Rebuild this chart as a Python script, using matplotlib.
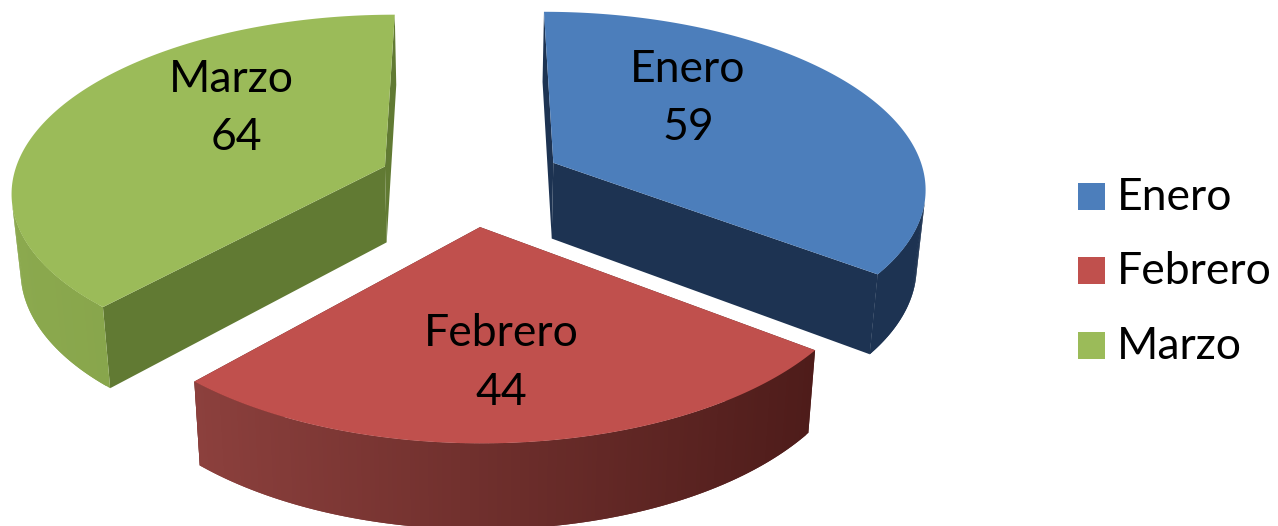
import numpy as np
import matplotlib
matplotlib.use('Agg')
import matplotlib.pyplot as plt
from matplotlib.colors import to_rgb
from matplotlib.patches import Rectangle

plt.rcParams['font.family'] = ['Lato', 'DejaVu Sans']

# chart data
months = ['Enero', 'Febrero', 'Marzo']
sales = [59, 44, 64]

# colours per slice
top_colors = ['#4C7EBB', '#C0504D', '#9BBB59']
wall_colors = ['#1D3352', '#5A2220', '#617A33']
rim_left = ['#1D3352', '#8C403D', '#8BA94E']
rim_right = ['#1D3352', '#4E1C1A', '#7F9C44']

# perspective set up, fitted by eye
CX, CY = 471.0, 182.0
RX, RY = 373.0, 175.3
KX, KY = 0.13, 0.13
DEPTH = 78.0
SHRINK = 0.02
EXPLODE = 0.25


def project(u, v, z=0.0):
    scale = 1 + SHRINK * z
    return CX + RX * u / ((1 - KX * v) * scale), CY + (RY * v + DEPTH * z) / ((1 - KY * v) * scale)


def blend(c1, c2, t):
    c1, c2 = np.array(to_rgb(c1)), np.array(to_rgb(c2))
    return tuple(c1 + (c2 - c1) * t)


fig = plt.figure(figsize=(12.78, 5.26), dpi=100)
ax = fig.add_axes([0, 0, 1, 1])
ax.set_xlim(0, 1278)
ax.set_ylim(526, 0)
ax.axis('off')

total = float(sum(sales))
edges = np.cumsum([0] + sales) / total * 2 * np.pi

# back slices first, Febrero last
for i in [0, 2, 1]:
    a0, a1 = edges[i], edges[i + 1]
    mid = (a0 + a1) / 2
    ox, oy = EXPLODE * np.sin(mid), -EXPLODE * np.cos(mid)
    ang = np.linspace(a0, a1, 160)
    u = ox + np.sin(ang)
    v = oy - np.cos(ang)

    # radial walls
    for a in (a0, a1):
        ue, ve = ox + np.sin(a), oy - np.cos(a)
        p = [project(ox, oy), project(ue, ve), project(ue, ve, 1), project(ox, oy, 1)]
        ax.fill(*zip(*p), color=wall_colors[i], lw=0, zorder=2)

    # curved rim, split up so it can shade from left to right
    x_top, y_top = project(u, v)
    x_bot, y_bot = project(u, v, 1)
    lo, hi = x_top.min(), x_top.max()
    for j in range(len(ang) - 1):
        dx, dy = x_top[j + 1] - x_top[j], y_top[j + 1] - y_top[j]
        bx, by = x_bot[j] - x_top[j], y_bot[j] - y_top[j]
        if dx * by - dy * bx >= 0:  # faces away from the viewer
            continue
        k = min(j + 2, len(ang) - 1)  # overlap next piece, avoids seams
        t = ((x_top[j] + x_top[j + 1]) / 2 - lo) / (hi - lo)
        col = blend(rim_left[i], rim_right[i], t)
        ax.fill([x_top[j], x_top[k], x_bot[k], x_bot[j]],
                [y_top[j], y_top[k], y_bot[k], y_bot[j]],
                color=col, lw=0, zorder=2)

    # top face
    xc, yc = project(ox, oy)
    ax.fill(np.r_[xc, x_top], np.r_[yc, y_top], color=top_colors[i], lw=0, zorder=3)

# data labels
label_x = [688, 501, 231]
label_y = [82, 346, 92]
value_x = [688, 501, 236]
value_y = [140, 405, 150]
for i, name in enumerate(months):
    ax.text(label_x[i], label_y[i], name, ha='center', va='baseline', fontsize=32, color='black', zorder=5)
    ax.text(value_x[i], value_y[i], str(sales[i]), ha='center', va='baseline', fontsize=32, color='black', zorder=5)

# legend
legend_base = [210, 284, 359]
for i, name in enumerate(months):
    ax.add_patch(Rectangle((1078, legend_base[i] - 27), 27, 27, facecolor=top_colors[i], edgecolor='none', zorder=5))
    ax.text(1117, legend_base[i], name, ha='left', va='baseline', fontsize=32, color='black', zorder=5)

fig.savefig('out.png', dpi=100)
